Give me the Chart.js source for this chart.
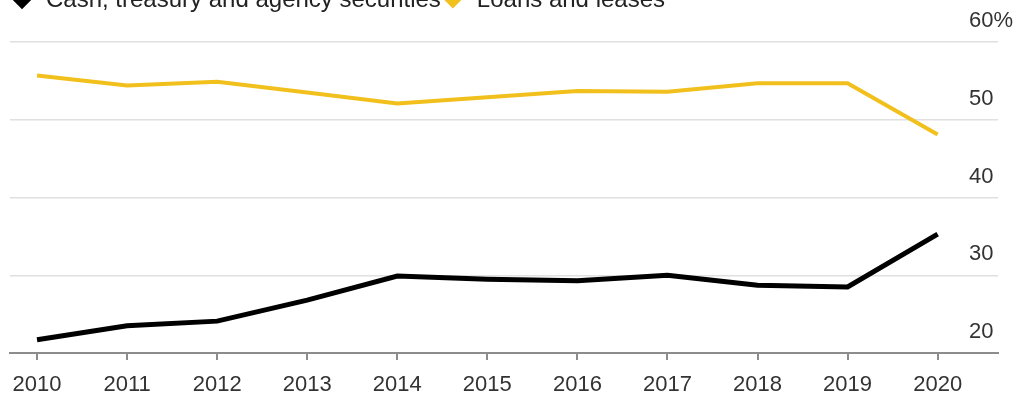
<!DOCTYPE html>
<html>
<head>
<meta charset="utf-8">
<script src="https://cdn.jsdelivr.net/npm/chart.js@4.4.1/dist/chart.umd.min.js"></script>
<style>
    html, body { margin: 0; padding: 0; background: #fff; overflow: hidden; }
    .wrap { position: absolute; left: 0; top: -12px; width: 1022px; height: 408px; }
</style>
</head>
<body>
<div class="wrap"><canvas id="bankChart"></canvas></div>
<script>
// data (share of assets, %)
const years = [2010, 2011, 2012, 2013, 2014, 2015, 2016, 2017, 2018, 2019, 2020]
const cashSecurities = [21.7, 23.5, 24.1, 26.8, 29.9, 29.5, 29.3, 30.0, 28.7, 28.5, 35.3]
const loansLeases = [55.7, 54.4, 54.9, 53.5, 52.1, 52.9, 53.7, 53.6, 54.7, 54.7, 48.1]
const yTicks = [20, 30, 40, 50, 60]

Chart.defaults.font.family = '"Liberation Sans", Arial, sans-serif'
Chart.defaults.color = "#333"

const toPoints = (vals) => vals.map((v, i) => ({ x: years[i], y: v }))

// legend sits mostly above the visible area, push plot down a bit
const legendGap = {
    id: "legendGap",
    afterInit(chart) {
        const fit = chart.legend.fit
        chart.legend.fit = function () {
            fit.call(this)
            this.height += 20
        }
    },
}

// y labels sit over the right end of the gridlines, so widen the label box leftwards
const yLabelsInside = {
    id: "yLabelsInside",
    afterLayout(chart) {
        chart.scales.y.left -= 29
    },
}

const ctx = document.getElementById("bankChart")
new Chart(ctx, {
    type: "line",
    data: {
        datasets: [
            {
                label: "Cash, treasury and agency securities",
                data: toPoints(cashSecurities),
                borderColor: "#000",
                backgroundColor: "#000",
                borderWidth: 5,
                pointRadius: 0,
                pointStyle: "rectRot",
                tension: 0,
            },
            {
                label: "Loans and leases",
                data: toPoints(loansLeases),
                borderColor: "#f1c01c",
                backgroundColor: "#f1c01c",
                borderWidth: 4,
                pointRadius: 0,
                pointStyle: "rectRot",
                tension: 0,
            },
        ],
    },
    options: {
        responsive: true,
        maintainAspectRatio: false,
        animation: false,
        layout: { padding: { left: 10, right: 0, top: 0, bottom: 0 } },
        plugins: {
            legend: {
                align: "start",
                labels: {
                    usePointStyle: true,
                    boxHeight: 8,
                    padding: 0,
                    color: "#222",
                    font: { size: 24 },
                },
            },
            tooltip: { enabled: false },
        },
        scales: {
            x: {
                type: "linear",
                min: 2009.7,
                max: 2020.67,
                afterBuildTicks: (s) => {
                    s.ticks = years.map((v) => ({ value: v }))
                },
                afterFit: (s) => {
                    s.height = 43
                },
                border: { color: "#8c8c8c", width: 2 },
                grid: {
                    drawOnChartArea: false,
                    color: "#8c8c8c",
                    lineWidth: 2,
                    tickLength: 7,
                },
                ticks: {
                    padding: 12,
                    color: "#333",
                    font: { size: 22 },
                    maxRotation: 0,
                    autoSkip: false,
                    callback: (v) => String(v),
                },
            },
            y: {
                position: "right",
                min: 20,
                max: 60,
                afterBuildTicks: (s) => {
                    s.ticks = yTicks.map((v) => ({ value: v }))
                },
                afterFit: (s) => {
                    s.width = 24
                },
                border: { display: false },
                grid: { color: "#e0e0e0", lineWidth: 1.5, drawTicks: false },
                ticks: {
                    padding: 0,
                    labelOffset: -21,
                    color: "#333",
                    font: { size: 22 },
                    callback: (v) => (v === 60 ? "60%" : v),
                },
            },
        },
    },
    plugins: [legendGap, yLabelsInside],
})
</script>
</body>
</html>
